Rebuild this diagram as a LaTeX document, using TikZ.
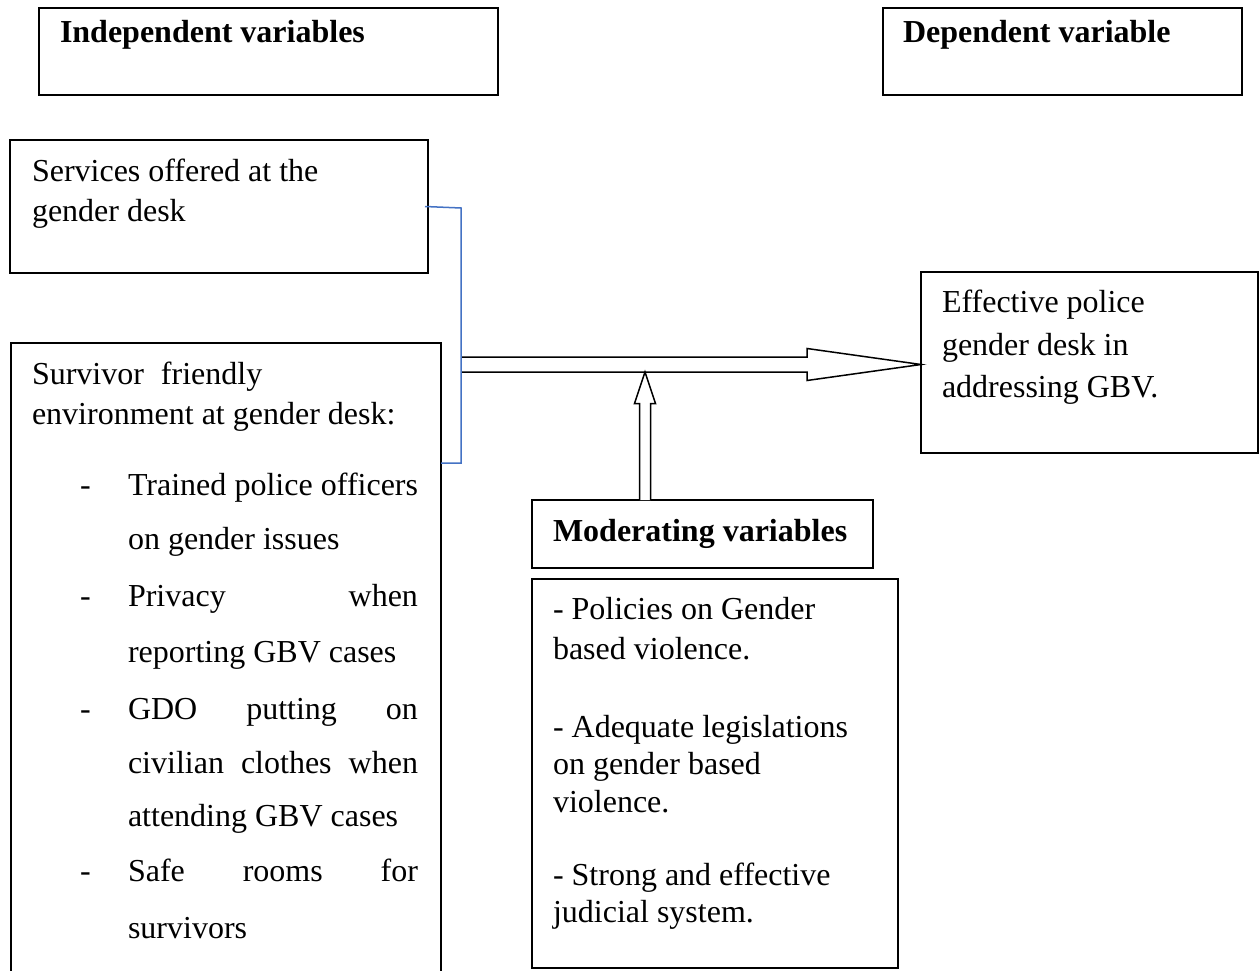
\documentclass[tikz,border=0pt]{standalone}
\usepackage{fontspec}
\setmainfont{Liberation Serif}
\usetikzlibrary{calc}
\definecolor{linkblue}{RGB}{68,114,196}
\tikzset{
  box/.style={draw=black, line width=1.6pt, inner sep=0pt, outer sep=0pt, anchor=north west},
  txt/.style={inner sep=0pt, outer sep=0pt, anchor=base west, font=\fontsize{32}{38}\selectfont},
  btxt/.style={txt, font=\fontsize{32}{38}\selectfont\bfseries},
  blockarrow/.style={draw=black, line width=1.5pt, line join=miter, fill=white},
  bluelink/.style={draw=linkblue, line width=1.5pt}
}
\begin{document}
\begin{tikzpicture}[x=1pt,y=-1pt]
\clip (0,0) rectangle (1259,971);
\fill[white] (0,0) rectangle (1259,971);

% boxes
\node[box, minimum width=459pt, minimum height=87pt] (ind) at (39,8) {};
\node[box, minimum width=359pt, minimum height=87pt] (dep) at (883,8) {};
\node[box, minimum width=418pt, minimum height=133pt] (serv) at (10,140) {};
\node[box, minimum width=430pt, minimum height=700pt] (surv) at (11,343) {};
\node[box, minimum width=337pt, minimum height=181pt] (eff) at (921,272) {};
\node[box, minimum width=341pt, minimum height=68pt] (modh) at (532,500) {};
\node[box, minimum width=366pt, minimum height=389pt] (modl) at (532,579) {};

% headings
\node[btxt] (tind) at (60,43) {Independent variables};
\node[btxt] (tdep) at (903,43) {Dependent variable};
\node[btxt] (tmod) at (553,541) {Moderating variables};

% services
\node[txt] (s1) at (32,182) {Services offered at the};
\node[txt] (s2) at (32,221) {gender desk};

% survivor friendly environment
\node[txt] (v1) at (32,384) {Survivor\hspace{17pt}friendly};
\node[txt] (v2) at (32,424) {environment at gender desk:};
\node[txt] (d1) at (80,495) {-};
\node[txt] (d2) at (80,606) {-};
\node[txt] (d3) at (80,719) {-};
\node[txt] (d4) at (80,881) {-};
\node[txt] (l1) at (128,495) {\makebox[290pt][s]{Trained police officers}};
\node[txt] (l2) at (128,549) {on gender issues};
\node[txt] (l3) at (128,606) {\makebox[290pt][s]{Privacy when}};
\node[txt] (l4) at (128,662) {reporting GBV cases};
\node[txt] (l5) at (128,719) {\makebox[290pt][s]{GDO putting on}};
\node[txt] (l6) at (128,773) {\makebox[290pt][s]{civilian clothes when}};
\node[txt] (l7) at (128,826) {attending GBV cases};
\node[txt] (l8) at (128,881) {\makebox[290pt][s]{Safe rooms for}};
\node[txt] (l9) at (128,938) {survivors};

% effective
\node[txt] (e1) at (942,312) {Effective police};
\node[txt] (e2) at (942,355) {gender desk in};
\node[txt] (e3) at (942,397) {addressing GBV.};

% moderating list
\node[txt] (m1) at (553,619) {- Policies on Gender};
\node[txt] (m2) at (553,659) {based violence.};
\node[txt] (m3) at (553,737) {- Adequate legislations};
\node[txt] (m4) at (553,774) {on gender based};
\node[txt] (m5) at (553,812) {violence.};
\node[txt] (m6) at (553,885) {- Strong and effective};
\node[txt] (m7) at (553,922) {judicial system.};

% connector coordinates
\coordinate (j) at (461,364.5);
\coordinate (tip) at (eff.west |- j);
\coordinate (ub) at (645,500);
\coordinate (ut) at ($(ub |- j)+(0,7.5)$);

% horizontal block arrow
\draw[blockarrow]
  ($(j)+(0,-7.5)$) -- ($(tip)+(-114,-7.5)$) -- ($(tip)+(-114,-16)$) -- (tip)
  -- ($(tip)+(-114,16)$) -- ($(tip)+(-114,7.5)$) -- ($(j)+(0,7.5)$);

% vertical block arrow
\draw[blockarrow]
  ($(ub)+(-5.5,0)$) -- ($(ut)+(-5.5,31.5)$) -- ($(ut)+(-10.5,31.5)$) -- (ut)
  -- ($(ut)+(10.5,31.5)$) -- ($(ut)+(5.5,31.5)$) -- ($(ub)+(5.5,0)$);

% blue bracket
\draw[bluelink] ($(serv.east)+(-3,0)$ |- 0,208) -- (461,208) -- (461,463) -- (surv.east |- 0,463);
\end{tikzpicture}
\end{document}
